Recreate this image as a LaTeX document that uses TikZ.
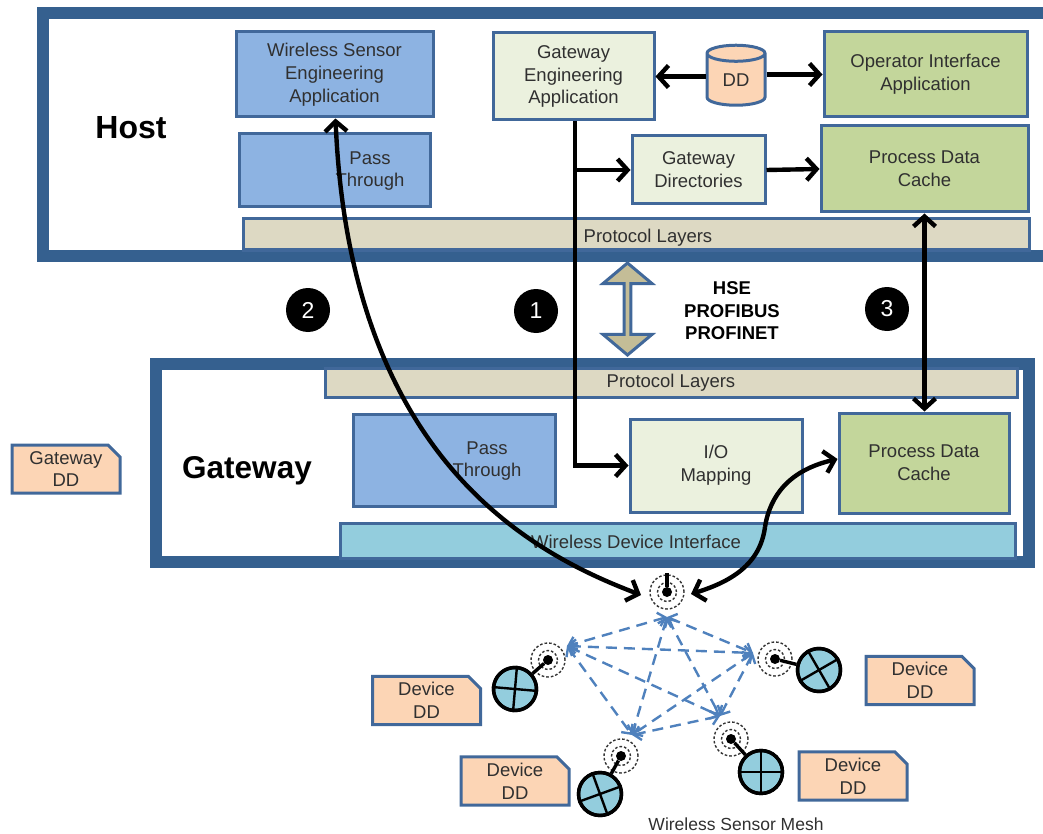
\documentclass[tikz,border=0pt]{standalone}
\usepackage{fontspec}
\setmainfont{Liberation Sans}
\usetikzlibrary{arrows.meta,shapes.geometric,shapes.misc,shapes.arrows}
\definecolor{framec}{HTML}{35608F}
\definecolor{edgec}{HTML}{41689A}
\definecolor{bluec}{HTML}{8DB3E2}
\definecolor{palec}{HTML}{EBF1DE}
\definecolor{greenc}{HTML}{C3D69B}
\definecolor{tanc}{HTML}{DDD9C3}
\definecolor{arrowc}{HTML}{C4BD97}
\definecolor{cyanc}{HTML}{93CDDD}
\definecolor{peachc}{HTML}{FCD5B5}
\definecolor{dashc}{HTML}{4F81BD}
\definecolor{textc}{HTML}{303030}
\tikzset{
  boxtext/.style={text=textc,align=center,font=\fontsize{18.5}{22.8}\selectfont},
  box/.style={boxtext,draw=edgec,line width=3pt,inner sep=0pt},
  bluebox/.style={box,fill=bluec},
  palebox/.style={box,fill=palec},
  greenbox/.style={box,fill=greenc},
  tanbox/.style={box,fill=tanc},
  cyanbox/.style={box,fill=cyanc},
  ddcard/.style={box,fill=peachc,chamfered rectangle,chamfered rectangle corners=north east,
    chamfered rectangle xsep=6pt,chamfered rectangle ysep=6pt,minimum width=108pt,minimum height=48pt},
  frame/.style={draw=framec,line width=12pt,line cap=butt,line join=miter},
  flow/.style={line width=4.4pt,draw=black},
  badge/.style={circle,fill=black,text=white,minimum size=44pt,inner sep=0pt,font=\fontsize{23}{25}\selectfont},
  radio/.style={circle,fill=black,minimum size=10pt,inner sep=0pt},
  ring/.style={draw=black!80,line width=1.4pt,dash pattern=on 2.6pt off 2pt},
  globe/.style={circle,draw=black,line width=3.4pt,fill=cyanc,minimum size=43pt,inner sep=0pt},
  mesh/.style={draw=dashc,line width=2.4pt,dash pattern=on 11pt off 7pt,
    {Straight Barb[length=7pt,width=14pt]}-{Straight Barb[length=7pt,width=14pt]}},
}
\begin{document}
\begin{tikzpicture}[x=1pt,y=-1pt,>={Straight Barb[length=10pt,width=22pt]}]
\useasboundingbox (0,0) rectangle (1043,834);

\draw[frame] (1043,256) -- (43,256) -- (43,13) -- (1043,13);
\draw[frame] (1029,364) -- (156,364) -- (156,562) -- (1029,562) -- cycle;

\node[bluebox,minimum width=197pt,minimum height=85pt] (wsea) at (334.5,74.5) {Wireless Sensor\\Engineering\\Application};
\node[bluebox,minimum width=191pt,minimum height=73pt] (hostpass) at (334.5,170.5) {};
\node[boxtext] (hostpasstext) at (370,171) {Pass\\Through};
\node[palebox,minimum width=161pt,minimum height=87pt] (gea) at (573.5,76.5) {Gateway\\Engineering\\Application};
\node[greenbox,minimum width=203pt,minimum height=85pt] (opif) at (925.5,74.5) {Operator Interface\\Application};
\node[palebox,minimum width=133pt,minimum height=68pt] (gwdir) at (698.5,170) {Gateway\\Directories};
\node[greenbox,minimum width=207pt,minimum height=86pt] (hostcache) at (924.5,169) {Process Data\\Cache};
\node[tanbox,minimum width=786pt,minimum height=31pt] (hostproto) at (636,234.5) {};
\node[boxtext] (hostprototext) at (648,238) {Protocol Layers};

\node[cylinder,shape border rotate=90,aspect=0.6,draw=edgec,line width=3pt,fill=peachc,
  minimum width=58pt,minimum height=60pt,inner sep=0pt,boxtext] (dd) at (736,80) {DD};

\node[tanbox,minimum width=692pt,minimum height=29pt] (gwproto) at (671,382.5) {Protocol Layers};
\node[bluebox,minimum width=202pt,minimum height=92pt] (gwpass) at (454,460) {};
\node[boxtext] (gwpasstext) at (487,461) {Pass\\Through};
\node[palebox,minimum width=172pt,minimum height=93pt] (iomap) at (716,465.5) {I/O\\Mapping};
\node[greenbox,minimum width=170pt,minimum height=100pt] (gwcache) at (924,463) {Process Data\\Cache};
\node[cyanbox,minimum width=675pt,minimum height=35pt] (wdi) at (677.5,540.5) {};
\node[boxtext] (wditext) at (636,542) {Wireless Device Interface};

\node[ddcard] (gwdd) at (66,469) {Gateway\\DD};
\node[ddcard] (devdd1) at (426.5,700.5) {Device\\DD};
\node[ddcard] (devdd2) at (515,781) {Device\\DD};
\node[ddcard] (devdd3) at (920,680.5) {Device\\DD};
\node[ddcard] (devdd4) at (853,776) {Device\\DD};

\node[font=\fontsize{32}{34}\selectfont\bfseries] (hostlabel) at (131,128) {Host};
\node[font=\fontsize{31.5}{33}\selectfont\bfseries] (gwlabel) at (247,471) {Gateway};
\node[badge] (n2) at (308,310) {2};
\node[badge] (n1) at (536,311) {1};
\node[badge] (n3) at (887,309) {3};
\node[align=center,font=\fontsize{18.5}{22.5}\selectfont\bfseries] (buses) at (732,311) {HSE\\PROFIBUS\\PROFINET};
\node[font=\fontsize{17.5}{20}\selectfont,text=textc] (meshlabel) at (736,824) {Wireless Sensor Mesh};

\node[double arrow,rotate=90,draw=edgec,line width=3pt,fill=arrowc,minimum width=49pt,
  minimum height=92pt,double arrow head extend=9.5pt,double arrow tip angle=100,inner sep=0pt,
  double arrow head indent=0pt] (busarrow) at (627.5,309) {};

\coordinate (ma) at (667,617);
\coordinate (mb) at (567,646);
\coordinate (mc) at (753,653);
\coordinate (md) at (632,735);
\coordinate (me) at (720,716);
\foreach \from/\to in {ma/mb,ma/mc,ma/md,ma/me,mb/mc,mb/md,mb/me,mc/md,mc/me,md/me}
  \draw[mesh] (\from) -- (\to);

\node[radio] (hub) at (667,592) {};
\node[radio] (r1) at (548,660) {};
\node[radio] (r2) at (775,659) {};
\node[radio] (r3) at (621,756) {};
\node[radio] (r4) at (731,739) {};
\foreach \r in {hub,r1,r2,r3,r4} {
  \draw[ring] (\r) circle (9.5pt);
  \draw[ring] (\r) circle (17pt);
}
\coordinate (hubtop) at (667,573);
\draw[line width=3.4pt] (hub) -- (hubtop);

\node[globe,rotate=-5] (g1) at (515,689) {};
\node[globe,rotate=30] (g2) at (819,670) {};
\node[globe,rotate=20] (g3) at (600,794) {};
\node[globe] (g4) at (761,772) {};
\foreach \g/\r in {g1/r1,g2/r2,g3/r3,g4/r4} {
  \draw[line width=3.4pt] (\g) -- (\r);
  \draw[line width=2.4pt] (\g.north) -- (\g.south);
  \draw[line width=2.4pt] (\g.east) -- (\g.west);
  \node[circle,draw=black,line width=3.4pt,minimum size=43pt,inner sep=0pt] at (\g) {};
}

\coordinate (hubleft) at (641,595);
\coordinate (hubright) at (691,594);
\coordinate (bend) at (765,527);
\coordinate (trunk) at ([xshift=1.5pt]gea.south);
\draw[flow,<->] ([xshift=1pt]wsea.south) .. controls (350,460) and (533,554) .. (hubleft);
\draw[flow,<-] ([yshift=4pt]gwcache.west) .. controls (790,470) and (770,495) .. (bend);
\draw[flow,->] (bend) .. controls (760,565) and (730,582) .. (hubright);
\draw[flow,->] (trunk) -- (trunk |- iomap.west) -- (iomap.west);
\draw[flow,->] (trunk |- gwdir.west) -- (gwdir.west);
\draw[flow,->] (gwdir.east) -- (hostcache.west);
\draw[flow,->] (dd.west |- gea.east) -- (gea.east);
\draw[flow,->] (dd.east |- opif.west) -- (opif.west);
\draw[flow,<->] (hostcache.south) -- (hostcache.south |- gwcache.north);
\end{tikzpicture}
\end{document}
